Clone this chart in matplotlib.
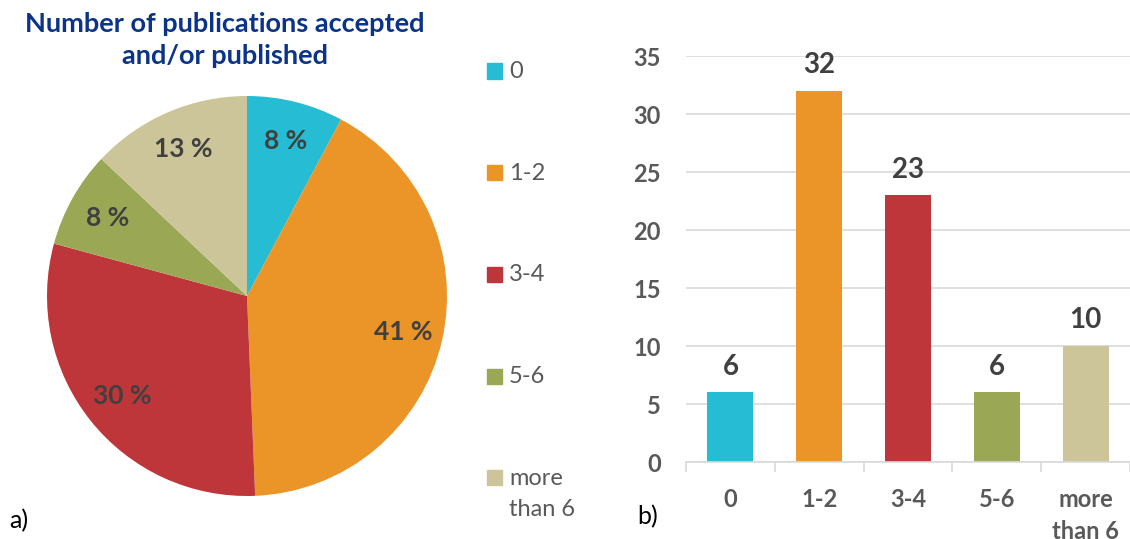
import matplotlib
matplotlib.use("Agg")
import matplotlib.pyplot as plt
from matplotlib.patches import Rectangle

plt.rcParams["font.family"] = ["Lato", "DejaVu Sans"]

categories = ["0", "1-2", "3-4", "5-6", "more\nthan 6"]
counts = [6, 32, 23, 6, 10]
pie_labels = ["8 %", "41 %", "30 %", "8 %", "13 %"]
colors = ["#26bcd3", "#eb9428", "#be363a", "#9aa755", "#cdc59a"]
yticks = [0, 5, 10, 15, 20, 25, 30, 35]

W, H = 1130, 539
fig = plt.figure(figsize=(W / 100, H / 100), dpi=100)

# --- pie (a) ---
ax_pie = fig.add_axes([47 / W, 43 / H, 400 / W, 400 / H])
wedges, texts = ax_pie.pie(
    counts, colors=colors, startangle=90, counterclock=False,
    labels=pie_labels, labeldistance=0.8,
    textprops=dict(fontsize=19, fontweight="bold", color="#404040",
                   ha="center", va="center"),
)
ax_pie.set_xlim(-1, 1)
ax_pie.set_ylim(-1, 1)
ax_pie.set_aspect("equal")

fig.text(225 / W, 1 - 40 / H, "Number of publications accepted\nand/or published",
         ha="center", va="center", fontsize=19.5, fontweight="bold",
         color="#0b3388", linespacing=1.45)

# legend drawn by hand so the spacing matches
for i, (cat, col) in enumerate(zip(categories, colors)):
    yc = 71 + i * 101.7
    fig.patches.append(Rectangle((487 / W, 1 - (yc + 7.5) / H), 15 / W, 15 / H,
                                 transform=fig.transFigure, color=col))
    fig.text(509 / W, 1 - (yc - 10) / H, cat, ha="left", va="top",
             fontsize=17, color="#595959", linespacing=1.6)

fig.text(9 / W, 1 - 521 / H, "a)", fontsize=18, va="center", color="black")
fig.text(637 / W, 1 - 517 / H, "b)", fontsize=18, va="center", color="black")

# --- bars (b) ---
ax = fig.add_axes([686 / W, 77 / H, 444 / W, 406 / H])
x = range(len(categories))
bars = ax.bar(x, counts, width=0.52, color=colors, zorder=3)
ax.bar_label(bars, padding=9, fontsize=20, fontweight="bold", color="#404040")
ax.set_xlim(-0.5, len(categories) - 0.5)
ax.set_ylim(0, 35)
ax.set_yticks(yticks)
ax.set_yticklabels([str(t) for t in yticks], fontsize=17, fontweight="bold", color="#595959")
ax.yaxis.grid(True, color="#d9d9d9", linewidth=1.2, zorder=0)
ax.tick_params(axis="y", length=0, pad=18)
ax.set_xticks([i - 0.5 for i in range(len(categories) + 1)], minor=False)
ax.set_xticklabels([""] * (len(categories) + 1))
ax.tick_params(axis="x", which="major", length=7, color="#d9d9d9", width=1.2)
ax.set_xticks(list(x), minor=True)
ax.set_xticklabels(categories, minor=True, fontsize=17, fontweight="bold",
                   color="#595959", linespacing=1.45)
ax.tick_params(axis="x", which="minor", length=0, pad=19)
for s in ["top", "right", "left"]:
    ax.spines[s].set_visible(False)
ax.spines["bottom"].set_color("#d9d9d9")
ax.spines["bottom"].set_linewidth(1.2)
ax.spines["bottom"].set_zorder(4)

fig.savefig("out.png", dpi=100)
